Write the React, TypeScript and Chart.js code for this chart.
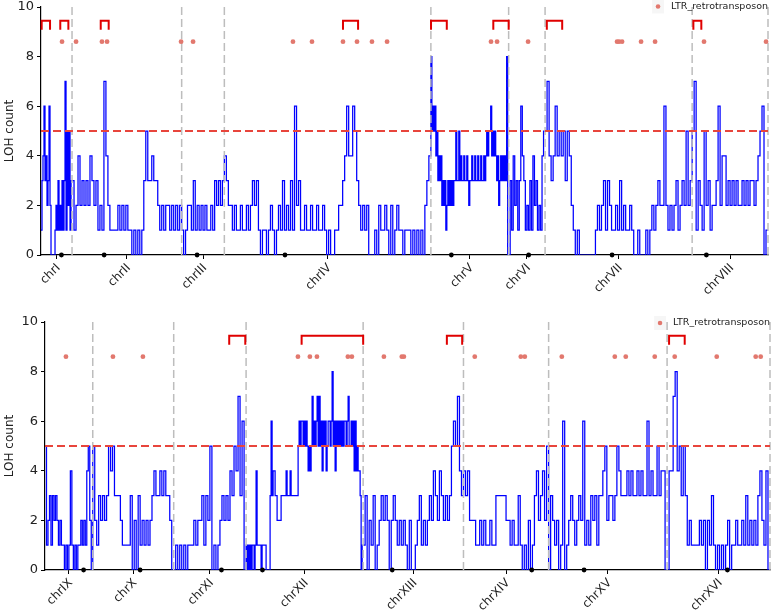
import React, { useEffect, useRef } from 'react';
import { Chart, registerables } from 'chart.js';

Chart.register(...registerables);

const FONT = 'DejaVu Sans';

// ---- Chromosomes (kb) ----
const TOP_CHROMS = ['chrI', 'chrII', 'chrIII', 'chrIV', 'chrV', 'chrVI', 'chrVII', 'chrVIII'];
const TOP_LENGTHS_KB = [230.218, 813.184, 316.62, 1531.933, 576.874, 270.161, 1090.94, 562.643];
const TOP_CENTROMERES_KB = [151.5, 238.2, 114.4, 449.7, 151.9, 148.5, 496.9, 105.6];

const BOTTOM_CHROMS = ['chrIX', 'chrX', 'chrXI', 'chrXII', 'chrXIII', 'chrXIV', 'chrXV', 'chrXVI'];
const BOTTOM_LENGTHS_KB = [439.888, 745.751, 666.816, 1078.177, 924.431, 784.333, 1091.291, 948.066];
const BOTTOM_CENTROMERES_KB = [355.6, 436.3, 440.1, 150.8, 268.0, 628.8, 326.6, 555.9];

// ---- LOH counts along each chromosome (evenly spaced windows) ----
const LOH_CHR_I = [1, 3, 4, 6, 3, 4, 2, 3, 6, 2, 0, 0, 0, 0, 1, 2, 1, 3, 1, 2, 1, 3, 1, 3, 7, 1, 5, 2, 5, 1, 3];
const LOH_CHR_II = [3, 1, 2, 4, 2, 3, 2, 3, 2, 4, 3, 2, 3, 1, 2, 1, 7, 4, 2, 1, 1, 1, 1, 2, 1, 2, 1, 2, 1, 1, 0, 1, 0, 1, 0, 1, 3, 5, 3, 3, 4, 3, 3, 2, 1, 2, 1, 2, 2, 1, 2, 1, 2, 1, 2];
const LOH_CHR_III = [1, 0, 1, 2, 2, 1, 3, 1, 2, 1, 2, 1, 2, 1, 1, 2, 1, 3, 2, 3, 2, 3];
const LOH_CHR_IV = [4, 3, 2, 2, 1, 2, 1, 1, 2, 1, 1, 2, 1, 2, 3, 2, 3, 1, 0, 1, 1, 0, 1, 2, 1, 0, 1, 2, 1, 3, 1, 2, 1, 3, 1, 6, 2, 3, 1, 1, 2, 1, 1, 2, 1, 1, 2, 1, 1, 2, 1, 0, 1, 0, 0, 1, 1, 2, 2, 3, 4, 6, 4, 4, 6, 5, 3, 2, 1, 2, 1, 2, 0, 0, 0, 1, 0, 2, 1, 1, 2, 1, 0, 2, 0, 1, 2, 1, 1, 0, 1, 1, 1, 0, 1, 0, 1, 0, 1, 0, 2, 3, 4];
const LOH_CHR_V = [8, 5, 6, 5, 6, 4, 5, 3, 4, 3, 4, 2, 3, 2, 3, 1, 2, 3, 2, 3, 2, 3, 2, 3, 3, 5, 3, 3, 5, 3, 4, 3, 3, 4, 3, 3, 4, 3, 2, 3, 3, 4, 3, 3, 4, 3, 3, 4, 3, 3, 4, 3, 3, 4, 3, 4, 5, 4, 5, 5, 6, 4, 5, 4, 5, 4, 3, 4, 2, 3, 4, 3, 4, 3, 4, 3, 8, 0];
const LOH_CHR_VI = [0, 3, 1, 4, 2, 3, 1, 3, 6, 4, 3, 1, 2, 1, 3, 1, 4, 2, 3, 1, 2, 1, 4, 5];
const LOH_CHR_VII = [5, 7, 4, 3, 4, 6, 4, 5, 4, 5, 3, 5, 4, 2, 1, 0, 1, 0, 0, 0, 0, 0, 0, 0, 0, 1, 2, 1, 2, 3, 1, 3, 2, 1, 1, 2, 1, 3, 1, 2, 1, 1, 2, 1, 0, 0, 1, 0, 0, 0, 1, 0, 1, 2, 1, 2, 3, 2, 2, 6, 2, 1, 2, 1, 2, 3, 1, 2, 3, 2, 5, 2, 3];
const LOH_CHR_VIII = [5, 7, 1, 3, 2, 1, 5, 2, 3, 1, 2, 2, 3, 6, 2, 4, 4, 2, 3, 2, 3, 2, 3, 2, 2, 3, 2, 3, 2, 3, 3, 2, 3, 4, 5, 6, 0, 1];

const LOH_CHR_IX = [5, 1, 2, 3, 1, 3, 2, 3, 2, 1, 2, 1, 1, 0, 1, 0, 1, 4, 1, 0, 1, 0, 1, 1, 2, 1, 2, 1, 4, 5, 2, 0];
const LOH_CHR_X = [5, 2, 1, 3, 2, 3, 2, 3, 5, 4, 5, 3, 3, 3, 2, 1, 1, 1, 1, 3, 0, 2, 0, 3, 1, 2, 1, 2, 1, 2, 3, 4, 3, 3, 4, 3, 4, 3, 3, 2, 0];
const LOH_CHR_XI = [0, 1, 0, 1, 0, 1, 0, 1, 1, 1, 2, 1, 2, 2, 3, 1, 3, 2, 5, 0, 1, 0, 1, 2, 3, 2, 3, 2, 4, 3, 5, 4, 7, 3, 6, 0];
const LOH_CHR_XII = [1, 0, 1, 0, 1, 0, 1, 1, 0, 1, 4, 1, 1, 1, 1, 0, 1, 1, 1, 1, 0, 0, 0, 0, 3, 6, 3, 4, 4, 3, 3, 2, 2, 2, 2, 3, 3, 3, 3, 3, 4, 3, 3, 3, 4, 3, 3, 3, 3, 3, 3, 3, 5, 6, 5, 6, 6, 5, 6, 5, 6, 5, 4, 5, 4, 5, 7, 5, 6, 5, 6, 7, 5, 7, 5, 6, 4, 6, 5, 6, 4, 5, 6, 6, 5, 6, 8, 5, 6, 4, 6, 5, 6, 5, 6, 5, 6, 5, 6, 6, 5, 6, 7, 5, 5, 6, 5, 6, 4, 6, 4, 5, 4, 4, 3, 0, 1];
const LOH_CHR_XIII = [1, 3, 0, 2, 1, 3, 0, 1, 2, 3, 2, 3, 2, 0, 2, 3, 2, 1, 2, 1, 2, 1, 0, 2, 0, 0, 1, 2, 3, 1, 2, 1, 2, 3, 2, 4, 3, 2, 4, 3, 2, 3, 2, 3, 5, 6, 5, 7, 4, 3];
const LOH_CHR_XIV = [4, 3, 4, 2, 2, 2, 1, 1, 2, 1, 2, 1, 1, 2, 1, 1, 3, 3, 3, 3, 3, 2, 2, 1, 2, 1, 1, 3, 1, 0, 1, 0, 2, 0, 1, 3, 4, 2, 3, 4, 2, 5];
const LOH_CHR_XV = [0, 3, 2, 1, 2, 0, 1, 6, 0, 1, 2, 3, 2, 1, 2, 3, 2, 6, 1, 2, 1, 3, 2, 3, 1, 3, 3, 4, 5, 2, 3, 3, 2, 3, 5, 4, 3, 3, 3, 4, 3, 4, 3, 3, 4, 3, 4, 3, 3, 6, 3, 4, 3, 3, 5, 3, 4, 4, 0];
const LOH_CHR_XVI = [0, 4, 4, 7, 8, 4, 5, 3, 5, 3, 1, 2, 1, 1, 1, 1, 2, 1, 2, 0, 2, 1, 3, 1, 0, 1, 0, 1, 0, 1, 2, 0, 1, 1, 2, 1, 1, 2, 1, 3, 1, 2, 1, 2, 1, 3, 4, 2, 1, 4, 0];

// ---- LTR retrotransposon positions (genome kb) ----
const TOP_LTR_KB = [156, 260, 452, 490, 1039, 1128, 1869, 2010, 2240, 2344, 2455, 2567, 3338, 3383, 3613, 4273, 4288, 4310, 4451, 4555, 4918, 5378];
const BOTTOM_LTR_KB = [193, 626, 902, 2330, 2440, 2505, 2790, 2827, 3122, 3287, 3306, 3959, 4383, 4420, 4761, 5249, 5350, 5617, 5801, 6188, 6547, 6593];

// ---- Highlighted regions (genome kb): start / end ----
const TOP_REGION_STARTS = [5, 143, 443, 2240, 2893, 3355, 3752, 4839];
const TOP_REGION_ENDS = [67, 203, 502, 2352, 3010, 3469, 3866, 4898];
const BOTTOM_REGION_STARTS = [1697, 2364, 3702, 5749];
const BOTTOM_REGION_ENDS = [1845, 2931, 3843, 5893];

const THRESHOLD = 5;
const LTR_LEVEL = 8.6;
const BRACKET_TOP = 9.45;
const BRACKET_BOTTOM = 9.08;
const Y_TICKS = [0, 2, 4, 6, 8, 10];

type Panel = {
  names: string[];
  lengths: number[];
  centromeres: number[];
  tracks: number[][];
  ltr: number[];
  starts: number[];
  ends: number[];
  height: number;
  padTop: number;
  padRight: number;
  yWidth: number;
  xHeight: number;
  legendDy: number;
};

const PANELS: Panel[] = [
  {
    names: TOP_CHROMS,
    lengths: TOP_LENGTHS_KB,
    centromeres: TOP_CENTROMERES_KB,
    tracks: [LOH_CHR_I, LOH_CHR_II, LOH_CHR_III, LOH_CHR_IV, LOH_CHR_V, LOH_CHR_VI, LOH_CHR_VII, LOH_CHR_VIII],
    ltr: TOP_LTR_KB,
    starts: TOP_REGION_STARTS,
    ends: TOP_REGION_ENDS,
    height: 305,
    padTop: 7,
    padRight: 6,
    yWidth: 41,
    xHeight: 50,
    legendDy: -0.5,
  },
  {
    names: BOTTOM_CHROMS,
    lengths: BOTTOM_LENGTHS_KB,
    centromeres: BOTTOM_CENTROMERES_KB,
    tracks: [LOH_CHR_IX, LOH_CHR_X, LOH_CHR_XI, LOH_CHR_XII, LOH_CHR_XIII, LOH_CHR_XIV, LOH_CHR_XV, LOH_CHR_XVI],
    ltr: BOTTOM_LTR_KB,
    starts: BOTTOM_REGION_STARTS,
    ends: BOTTOM_REGION_ENDS,
    height: 306,
    padTop: 17,
    padRight: 3,
    yWidth: 45,
    xHeight: 41,
    legendDy: 1,
  },
];

function makeConfig(p: Panel): any {
  const starts: number[] = [];
  let acc = 0;
  p.lengths.forEach((l) => {
    starts.push(acc);
    acc += l;
  });
  const total = acc;
  const ends = p.lengths.map((l, i) => starts[i] + l);
  const centers = p.lengths.map((l, i) => starts[i] + l / 2);

  const steps: { x: number; y: number }[] = [];
  p.tracks.forEach((vals, i) => {
    vals.forEach((v, j) => steps.push({ x: starts[i] + (p.lengths[i] * j) / vals.length, y: v }));
  });
  const lastTrack = p.tracks[p.tracks.length - 1];
  steps.push({ x: total, y: lastTrack[lastTrack.length - 1] });

  const boundaries: any[] = [];
  ends.forEach((e) => {
    boundaries.push({ x: e, y: 0 }, { x: e, y: 10 }, { x: e, y: null });
  });

  const brackets: any[] = [];
  p.starts.forEach((a, i) => {
    const b = p.ends[i];
    brackets.push(
      { x: a, y: BRACKET_BOTTOM },
      { x: a, y: BRACKET_TOP },
      { x: b, y: BRACKET_TOP },
      { x: b, y: BRACKET_BOTTOM },
      { x: b, y: null }
    );
  });

  const cen = p.centromeres.map((c, i) => ({ x: starts[i] + c, y: 0 }));
  const ltr = p.ltr.map((x) => ({ x, y: LTR_LEVEL }));

  const legendPlugin = {
    id: 'ltrLegend',
    afterDraw(chart: any) {
      const { ctx, chartArea } = chart;
      const text = 'LTR_retrotransposon';
      ctx.save();
      ctx.font = `9.5px "${FONT}"`;
      const w = ctx.measureText(text).width;
      const y = chartArea.top + p.legendDy;
      const tx = chartArea.right - w;
      const dx = tx - 13;
      ctx.fillStyle = 'rgba(0,0,0,0.035)';
      ctx.fillRect(dx - 6, y - 7, 12, 14);
      ctx.fillStyle = '#e2786e';
      ctx.beginPath();
      ctx.arc(dx, y, 2.3, 0, Math.PI * 2);
      ctx.fill();
      ctx.fillStyle = '#222';
      ctx.textBaseline = 'middle';
      ctx.textAlign = 'left';
      ctx.fillText(text, tx, y);
      ctx.restore();
    },
  };

  return {
    type: 'line',
    data: {
      datasets: [
        {
          type: 'scatter',
          label: 'LTR_retrotransposon',
          data: ltr,
          pointRadius: 2.4,
          pointBackgroundColor: '#e2786e',
          pointBorderWidth: 0,
          showLine: false,
          clip: false,
        },
        {
          type: 'scatter',
          label: 'centromere',
          data: cen,
          pointRadius: 2.4,
          pointBackgroundColor: '#000',
          pointBorderWidth: 0,
          showLine: false,
          clip: false,
        },
        {
          label: 'region',
          data: brackets,
          borderColor: '#e00000',
          borderWidth: 2,
          pointRadius: 0,
          spanGaps: false,
          fill: false,
          clip: false,
        },
        {
          label: 'threshold',
          data: [
            { x: 0, y: THRESHOLD },
            { x: total, y: THRESHOLD },
          ],
          borderColor: '#e8453c',
          borderDash: [8, 4],
          borderWidth: 2,
          pointRadius: 0,
          fill: false,
        },
        {
          label: 'boundary',
          data: boundaries,
          borderColor: '#bdbdbd',
          borderDash: [8, 4],
          borderWidth: 1.5,
          pointRadius: 0,
          spanGaps: false,
          fill: false,
          clip: false,
        },
        {
          label: 'LOH',
          data: steps,
          borderColor: '#0000ff',
          borderWidth: 1.25,
          pointRadius: 0,
          stepped: true,
          fill: false,
        },
      ],
    },
    options: {
      animation: false,
      responsive: false,
      maintainAspectRatio: false,
      layout: { padding: { left: 0, top: p.padTop, right: p.padRight, bottom: 0 } },
      plugins: { legend: { display: false }, tooltip: { enabled: false } },
      scales: {
        x: {
          type: 'linear',
          min: 0,
          max: total,
          afterFit: (s: any) => {
            s.height = p.xHeight;
            s.paddingLeft = 0;
            s.paddingRight = 0;
          },
          afterBuildTicks: (s: any) => {
            s.ticks = centers.map((v) => ({ value: v }));
          },
          ticks: {
            autoSkip: false,
            maxRotation: 45,
            minRotation: 45,
            padding: 2,
            labelOffset: 2,
            color: '#222',
            font: { family: FONT, size: 12 },
            callback: (_v: any, i: number) => p.names[i],
          },
          grid: { display: true, drawOnChartArea: false, drawTicks: true, tickLength: 4, color: '#000' },
          border: { display: true, color: '#000', width: 1.2 },
        },
        y: {
          min: 0,
          max: 10,
          afterFit: (s: any) => {
            s.width = p.yWidth;
            s.paddingTop = 0;
            s.paddingBottom = 0;
          },
          afterBuildTicks: (s: any) => {
            s.ticks = Y_TICKS.map((v) => ({ value: v }));
          },
          ticks: { padding: 3, color: '#222', font: { family: FONT, size: 13 } },
          title: {
            display: true,
            text: 'LOH count',
            color: '#222',
            font: { family: FONT, size: 12 },
            padding: { top: 3, bottom: 0 },
          },
          grid: { display: true, drawOnChartArea: false, drawTicks: true, tickLength: 4, color: '#000' },
          border: { display: true, color: '#000', width: 1.2 },
        },
      },
    },
    plugins: [legendPlugin],
  };
}

function PanelChart({ panel, top }: { panel: Panel; top: number }) {
  const ref = useRef<HTMLCanvasElement | null>(null);
  useEffect(() => {
    if (!ref.current) return;
    const chart = new Chart(ref.current, makeConfig(panel));
    return () => chart.destroy();
  }, [panel]);
  return (
    <canvas
      ref={ref}
      width={774}
      height={panel.height}
      style={{ position: 'absolute', left: 0, top, width: 774, height: panel.height, display: 'block' }}
    />
  );
}

export default function App() {
  return (
    <div style={{ position: 'absolute', left: 0, top: 0, width: 774, height: 611, background: '#fff' }}>
      <PanelChart panel={PANELS[0]} top={0} />
      <PanelChart panel={PANELS[1]} top={305} />
    </div>
  );
}
